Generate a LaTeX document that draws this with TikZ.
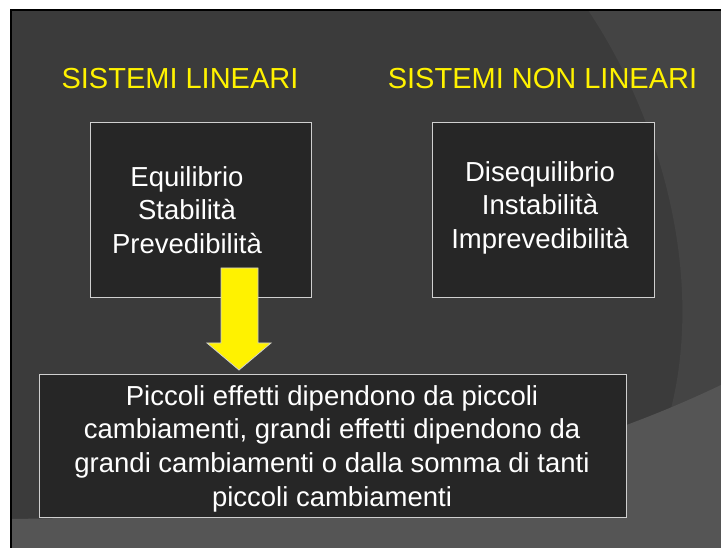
\documentclass[tikz,border=0pt]{standalone}
\usepackage{fontspec}
\setmainfont{Liberation Sans}
\definecolor{slidebg}{HTML}{3B3B3B}
\definecolor{arcbg}{HTML}{444444}
\definecolor{bandbg}{HTML}{555555}
\definecolor{boxfill}{HTML}{262626}
\definecolor{boxline}{HTML}{CFCFCF}
\tikzset{
  panel/.style={draw=boxline, fill=boxfill, line width=1pt, inner sep=0pt},
  title/.style={text=yellow, font=\fontsize{29}{34}\selectfont, anchor=base},
  body/.style={text=white, font=\fontsize{27.5}{33.8}\selectfont, align=center, inner sep=0pt, anchor=north}
}
\begin{document}
\begin{tikzpicture}[x=1pt,y=-1pt]
    \useasboundingbox (0,0) rectangle (721,548);
    \fill[white] (0,0) rectangle (721,548);
    \begin{scope}
    \clip (11,10) rectangle (721,548);
    \fill[slidebg] (11,10) rectangle (721,548);
    \fill[arcbg] (588,10) .. controls (668,130) and (705,290) .. (668,420) -- (721,420) -- (721,10) -- cycle;
    \fill[bandbg] (11,519) .. controls (350,515) and (560,462) .. (721,385) -- (721,548) -- (11,548) -- cycle;
    \end{scope}
    \draw[black, line width=2pt] (11,548) -- (11,10) -- (721,10);
    \node[title](lt) at (180,89) {SISTEMI LINEARI};
    \node[title](rt) at (542.5,89) {SISTEMI NON LINEARI};
    \node[panel, minimum width=221pt, minimum height=175pt](lbox) at (200.5,210.5) {};
    \node[panel, minimum width=222pt, minimum height=175pt](rbox) at (543,210.5) {};
    \node[panel, minimum width=587pt, minimum height=142pt](bbox) at (332.5,446) {};
    \filldraw[fill=yellow, draw=boxline, line width=0.8pt] (221,268)--(258,268)--(258,343)--(271,343)--(239,370)--(207,343)--(221,343)--cycle;
    \node[body](ltext) at (187,166) {Equilibrio\\Stabilità\\Prevedibilità};
    \node[body](rtext) at (540,161) {Disequilibrio\\Instabilità\\Imprevedibilità};
    \node[body](btext) at (332,385) {Piccoli effetti dipendono da piccoli\\cambiamenti, grandi effetti dipendono da\\grandi cambiamenti o dalla somma di tanti\\piccoli cambiamenti};
\end{tikzpicture}
\end{document}
